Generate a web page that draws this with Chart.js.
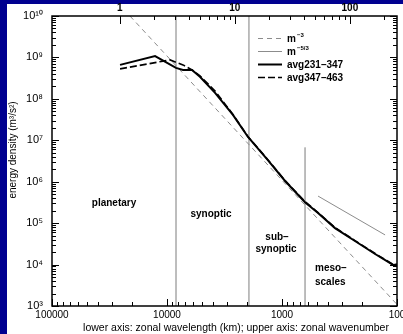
<!DOCTYPE html>
<html>
<head>
<meta charset="utf-8">
<script src="https://cdn.jsdelivr.net/npm/chart.js@4.4.0/dist/chart.umd.min.js"></script>
<style>
  html, body { margin: 0; padding: 0; background: #000090; }
  #wrap { width: 403px; height: 334px; }
</style>
</head>
<body>
<div id="wrap"><canvas id="spectrum" width="403" height="334"></canvas></div>
<script>
// zonal wavelength (km) against energy density (m^3/s^2)
var avgAWavelength = [25600, 12700, 8350, 7260, 6060, 5170, 3820, 2670, 1975, 1350, 940, 631, 486, 346, 232, 155, 108, 100];
var avgAEnergy = [6.6e8, 1.08e9, 5.6e8, 5.0e8, 5.0e8, 3.4e8, 1.4e8, 4.1e7, 1.2e7, 3.5e6, 1.04e6, 3.2e5, 1.76e5, 7.6e4, 3.7e4, 1.8e4, 9.8e3, 1.0e4];

var avgBWavelength = [25600, 9400, 7260, 6060, 5170, 3820, 2670, 1975, 1350, 940, 631, 486, 346, 232, 155, 108, 100];
var avgBEnergy = [5.3e8, 8.7e8, 6.6e8, 5.0e8, 3.6e8, 1.55e8, 4.2e7, 1.22e7, 3.6e6, 1.06e6, 3.3e5, 1.8e5, 7.8e4, 3.8e4, 1.85e4, 1.0e4, 1.0e4];

// reference slopes
var slope3Wavelength = [21000, 100];
var slope3Energy = [1.0e10, 1.09e3];
var slope53Wavelength = [486, 127];
var slope53Energy = [4.5e5, 5.2e4];

// regime boundaries
var boundaryWavelength = [8350, 1940, 630];
var boundaryTop = [1e10, 1e10, 6.7e6];

var legendLabels = ['m', 'm', 'avg231\u2013347', 'avg347\u2013463'];
var legendSup = ['\u22123', '\u22125/3', '', ''];

var circumference = 25700; // km, wavenumber = circumference / wavelength
var FONT = '"Liberation Sans", Arial, Helvetica, sans-serif';

function toPoints(xs, ys) {
  return xs.map(function (x, i) { return { x: x, y: ys[i] }; });
}
function isDecade(v) {
  var l = Math.log10(v);
  return Math.abs(l - Math.round(l)) < 1e-6;
}
var supDigits = { '0': '\u2070', '1': '\u00b9', '2': '\u00b2', '3': '\u00b3', '4': '\u2074', '5': '\u2075', '6': '\u2076', '7': '\u2077', '8': '\u2078', '9': '\u2079' };
function sup(s) {
  return String(s).split('').map(function (c) { return supDigits[c] || c; }).join('');
}
function logTicks(min, max) {
  var out = [];
  for (var e = Math.floor(Math.log10(min)); e <= Math.ceil(Math.log10(max)); e++) {
    for (var m = 1; m < 10; m++) {
      var v = m * Math.pow(10, e);
      if (v >= min * 0.999 && v <= max * 1.001) out.push({ v: v, major: m === 1 });
    }
  }
  return out;
}

var datasets = [
  { data: toPoints(avgAWavelength, avgAEnergy), borderColor: '#000', borderWidth: 2 },
  { data: toPoints(avgBWavelength, avgBEnergy), borderColor: '#000', borderWidth: 1.6, borderDash: [7, 3] },
  { data: toPoints(slope3Wavelength, slope3Energy), borderColor: '#8c8c8c', borderWidth: 1, borderDash: [5, 4] },
  { data: toPoints(slope53Wavelength, slope53Energy), borderColor: '#8c8c8c', borderWidth: 1 }
];
boundaryWavelength.forEach(function (w, i) {
  datasets.push({ data: [{ x: w, y: boundaryTop[i] }, { x: w, y: 1e3 }], borderColor: '#b4b4b4', borderWidth: 1 });
});
datasets.forEach(function (d) {
  d.showLine = true;
  d.pointRadius = 0;
  d.fill = false;
  d.tension = 0;
});

var decorations = {
  id: 'decorations',
  beforeDraw: function (chart) {
    var ctx = chart.ctx;
    ctx.save();
    ctx.fillStyle = '#ffffff';
    ctx.fillRect(7, 4, chart.width - 7, chart.height - 4);
    ctx.restore();
  },
  afterDraw: function (chart) {
    var ctx = chart.ctx;
    var a = chart.chartArea;
    var sx = chart.scales.x, sx2 = chart.scales.x2, sy = chart.scales.y;
    ctx.save();
    ctx.strokeStyle = '#000';
    ctx.lineWidth = 1;
    ctx.beginPath();
    logTicks(100, 100000).forEach(function (t) {
      var p = Math.round(sx.getPixelForValue(t.v)) + 0.5;
      ctx.moveTo(p, a.bottom);
      ctx.lineTo(p, a.bottom - (t.major ? 7 : 4));
    });
    logTicks(1, circumference / 100).forEach(function (t) {
      var p = Math.round(sx2.getPixelForValue(t.v)) + 0.5;
      ctx.moveTo(p, a.top);
      ctx.lineTo(p, a.top + (t.major ? 8 : 4));
    });
    logTicks(1e3, 1e10).forEach(function (t) {
      var p = Math.round(sy.getPixelForValue(t.v)) + 0.5;
      var len = t.major ? 7 : 4;
      ctx.moveTo(a.left, p);
      ctx.lineTo(a.left + len, p);
      ctx.moveTo(a.right, p);
      ctx.lineTo(a.right - len, p);
    });
    ctx.stroke();

    // frame
    ctx.lineWidth = 1.5;
    ctx.strokeRect(a.left, a.top, a.right - a.left, a.bottom - a.top);

    // legend
    var rows = [38, 51, 64, 77];
    var styles = [
      { c: '#8c8c8c', w: 1, dash: [5, 4] },
      { c: '#8c8c8c', w: 1, dash: [] },
      { c: '#000', w: 2, dash: [] },
      { c: '#000', w: 1.6, dash: [7, 3] }
    ];
    rows.forEach(function (y, i) {
      ctx.beginPath();
      ctx.strokeStyle = styles[i].c;
      ctx.lineWidth = styles[i].w;
      ctx.setLineDash(styles[i].dash);
      ctx.moveTo(258, y + 0.5);
      ctx.lineTo(282, y + 0.5);
      ctx.stroke();
      ctx.setLineDash([]);
      ctx.fillStyle = '#000';
      ctx.textBaseline = 'middle';
      ctx.textAlign = 'left';
      ctx.font = 'bold 10px ' + FONT;
      ctx.fillText(legendLabels[i], 287, y + 1);
      if (legendSup[i]) {
        var w = ctx.measureText(legendLabels[i]).width;
        ctx.font = 'bold 6px ' + FONT;
        ctx.fillText(legendSup[i], 287 + w + 1, y - 3);
      }
    });

    // regime labels
    ctx.font = 'bold 10px ' + FONT;
    ctx.textAlign = 'center';
    ctx.textBaseline = 'middle';
    ctx.fillText('planetary', 114, 203);
    ctx.fillText('synoptic', 211, 214);
    ctx.fillText('sub\u2013', 277, 237);
    ctx.fillText('synoptic', 276, 249);
    ctx.textAlign = 'left';
    ctx.fillText('meso\u2013', 315, 268);
    ctx.fillText('scales', 315, 282);

    // axis titles
    ctx.font = '10.5px ' + FONT;
    ctx.textAlign = 'center';
    ctx.fillText('lower axis: zonal wavelength (km); upper axis: zonal wavenumber', 236, 328);
    ctx.save();
    ctx.translate(13, 150);
    ctx.rotate(-Math.PI / 2);
    ctx.font = '10px ' + FONT;
    ctx.fillText('energy density (m\u00b3/s\u00b2)', 0, 0);
    ctx.restore();
    ctx.restore();
  }
};

new Chart('spectrum', {
  type: 'scatter',
  data: { datasets: datasets },
  plugins: [decorations],
  options: {
    responsive: false,
    animation: false,
    layout: { padding: 0 },
    plugins: { legend: { display: false }, tooltip: { enabled: false } },
    scales: {
      x: {
        type: 'logarithmic', position: 'bottom', reverse: true, min: 100, max: 100000,
        grid: { display: false, drawTicks: false }, border: { display: false },
        ticks: {
          autoSkip: false, maxRotation: 0, padding: 3, color: '#000', font: { family: FONT, size: 10 },
          callback: function (v) { return isDecade(v) ? String(Math.round(v)) : ''; }
        },
        afterFit: function (s) { s.height = 28; s.paddingLeft = 0; s.paddingRight = 0; }
      },
      x2: {
        type: 'logarithmic', position: 'top', min: circumference / 100000, max: circumference / 100,
        grid: { display: false, drawTicks: false }, border: { display: false },
        ticks: {
          autoSkip: false, maxRotation: 0, padding: 2, color: '#000', font: { family: FONT, size: 10, weight: 'bold' },
          callback: function (v) { return (isDecade(v) && v >= 1) ? String(Math.round(v)) : ''; }
        },
        afterFit: function (s) { s.height = 16; s.paddingLeft = 0; s.paddingRight = 0; }
      },
      y: {
        type: 'logarithmic', position: 'left', min: 1e3, max: 1e10,
        grid: { display: false, drawTicks: false }, border: { display: false },
        ticks: {
          autoSkip: false, padding: 9, color: '#000', font: { family: FONT, size: 11 },
          callback: function (v) { return isDecade(v) ? '10' + sup(Math.round(Math.log10(v))) : ''; }
        },
        afterFit: function (s) { s.width = 52; s.paddingTop = 0; s.paddingBottom = 0; }
      },
      y2: {
        type: 'logarithmic', position: 'right', min: 1e3, max: 1e10,
        grid: { display: false, drawTicks: false }, border: { display: false },
        ticks: { display: false },
        afterFit: function (s) { s.width = 6; s.paddingTop = 0; s.paddingBottom = 0; }
      }
    }
  }
});
</script>
</body>
</html>
